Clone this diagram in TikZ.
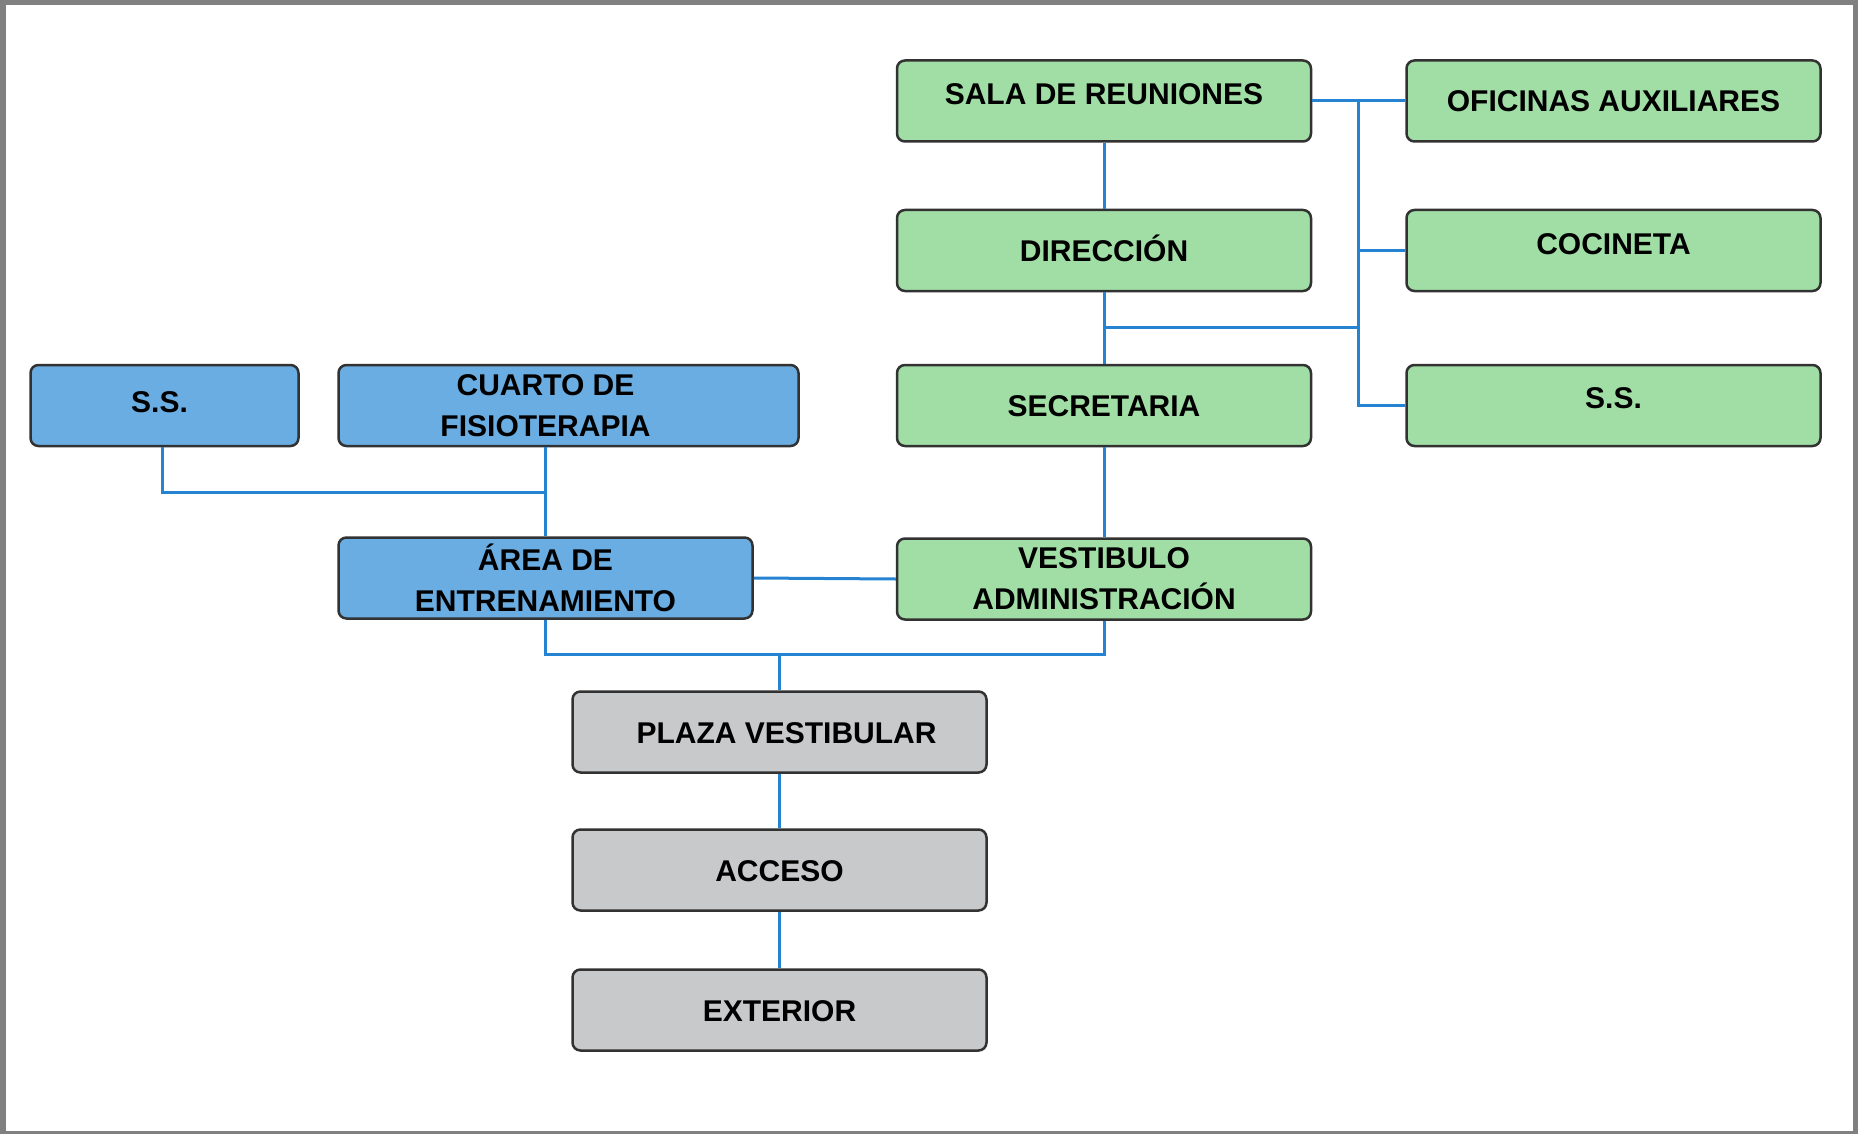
\documentclass[tikz,border=0pt]{standalone}
\usepackage{fontspec}
\setmainfont{Liberation Sans}
\usepackage{tikz}
\definecolor{verde}{RGB}{161,222,166}
\definecolor{azul}{RGB}{106,173,226}
\definecolor{gris}{RGB}{200,201,203}
\definecolor{borde}{RGB}{50,50,50}
\definecolor{linea}{RGB}{37,131,209}
\definecolor{marco}{RGB}{128,128,128}
\tikzset{room/.style = {shape = rectangle, draw = borde, line width = 2.5pt, rounded corners = 8pt, minimum width = 414pt, minimum height = 81pt, align = center, font = \fontsize{30}{41}\selectfont\bfseries}}
\tikzset{txt/.style = {text height = 22pt, text depth = #1}, txt/.default = 0pt}
\tikzset{link/.style = {draw = linea, line width = 3pt}}

\begin{document}
\begin{tikzpicture}[x = 1pt, y = -1pt]
			\fill[marco] (0, 0) rectangle (1858, 1134);
			\fill[white] (6, 5) rectangle (1853, 1131);
			\useasboundingbox (0, 0) rectangle (1858, 1134);

			\node[room, txt = 15pt, fill = verde] (sala) at (1104, 101) {SALA DE REUNIONES};
			\node[room, txt, fill = verde] (ofi) at (1613.5, 101) {OFICINAS AUXILIARES};
			\node[room, txt, fill = verde] (dir) at (1104, 250.5) {DIRECCIÓN};
			\node[room, txt = 14pt, fill = verde] (coc) at (1613.5, 250.5) {COCINETA};
			\node[room, txt, fill = verde] (sec) at (1104, 405.5) {SECRETARIA};
			\node[room, txt = 16pt, fill = verde] (ssd) at (1613.5, 405.5) {S.S.};
			\node[room, fill = verde] (ves) at (1104, 579) {VESTIBULO\\ADMINISTRACIÓN};

			\node[room, txt = 9pt, fill = azul, minimum width = 268pt] (ssi) at (164.5, 405.5) {S.S.\hspace*{10pt}};
			\node[room, fill = azul, minimum width = 460pt] (fis) at (568.5, 405.5) {CUARTO DE\hspace*{46pt}\\FISIOTERAPIA\hspace*{46pt}};
			\node[room, fill = azul] (ent) at (545.5, 578) {ÁREA DE\\ENTRENAMIENTO};

			\node[room, txt, fill = gris] (pla) at (779.5, 732) {\hspace*{14pt}PLAZA VESTIBULAR};
			\node[room, txt, fill = gris] (acc) at (779.5, 870) {ACCESO};
			\node[room, txt, fill = gris] (ext) at (779.5, 1010) {EXTERIOR};

			\coordinate (bus) at (1358.5, 101);
			\coordinate (j1) at (1104, 327);
			\coordinate (j2) at (545.5, 492);
			\coordinate (j3) at (779.5, 654);

			\draw[link] (sala.east) -- (ofi.west);
			\draw[link] (bus) |- (ssd.west);
			\draw[link] (bus |- coc.west) -- (coc.west);
			\draw[link] (sala.south) -- (dir.north);
			\draw[link] (dir.south) -- (sec.north);
			\draw[link] (j1) -- (j1 -| bus);
			\draw[link] (sec.south) -- (ves.north);
			\draw[link] (ssi.south -| 162, 0) |- (j2);
			\draw[link] (fis.south -| ent.north) -- (ent.north);
			\draw[link] (ent.east) -- (ves.west);
			\draw[link] (ent.south) |- (ves.south |- j3) -- (ves.south);
			\draw[link] (j3) -- (pla.north);
			\draw[link] (pla.south) -- (acc.north);
			\draw[link] (acc.south) -- (ext.north);
		\end{tikzpicture}
\end{document}
